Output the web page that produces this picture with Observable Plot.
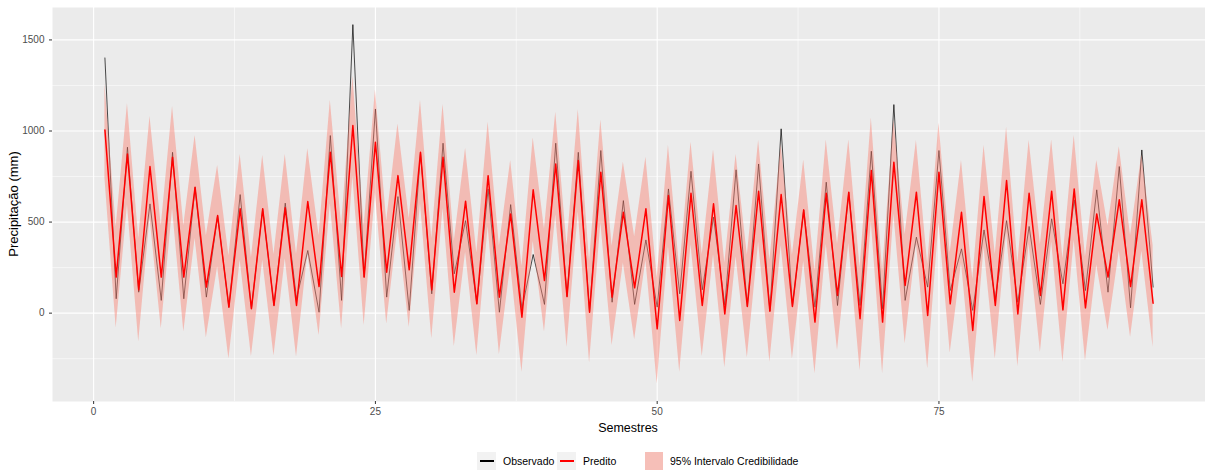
<!DOCTYPE html>
<html><head><meta charset="utf-8">
<script src="https://cdn.jsdelivr.net/npm/d3@7"></script>
<script src="https://cdn.jsdelivr.net/npm/@observablehq/plot@0.6"></script>
<style>
body{margin:0;background:#fff;font-family:"Liberation Sans",Arial,sans-serif;}
#wrap{position:relative;width:1205px;height:470px;}
#legend{position:relative;height:20px;width:1205px;}
#legend .key{position:absolute;top:2px;height:18px;background:#F2F2F2;}
#legend .lbl{position:absolute;top:5px;font-size:10.5px;line-height:12px;color:#000;white-space:nowrap;}
</style></head><body>
<div id="wrap"><div id="chart"></div>
<div id="legend">
  <div class="key" style="left:477px;width:19px;"><div style="position:absolute;left:3px;width:14px;top:8px;height:2px;background:#000;"></div></div>
  <div class="lbl" style="left:503px;">Observado</div>
  <div class="key" style="left:557px;width:19px;"><div style="position:absolute;left:3px;width:14px;top:8px;height:2px;background:#FF0000;"></div></div>
  <div class="lbl" style="left:583px;">Predito</div>
  <div class="key" style="left:645px;width:18px;"><div style="position:absolute;left:0;top:0;width:18px;height:18px;background:rgba(250,128,114,0.45);"></div></div>
  <div class="lbl" style="left:670px;">95% Intervalo Credibilidade</div>
</div></div>
<script>
const observado = [1401,79,911,115,600,70,883,79,691,88,536,33,651,24,573,42,604,79,344,5,975,70,1584,198,1121,88,640,15,883,106,933,216,508,51,682,5,596,24,322,48,933,91,883,5,893,60,618,48,402,33,682,106,779,128,527,42,787,37,819,11,1012,37,567,33,719,42,664,42,889,24,1145,70,417,143,893,124,353,15,457,79,508,60,476,48,518,161,622,124,677,115,805,29,896,143];
const predito = [1006,198,874,128,805,198,856,198,691,143,536,33,573,24,573,42,578,42,613,146,883,201,1030,198,938,225,755,238,883,128,856,115,615,51,755,88,545,-22,677,179,819,91,838,5,774,88,554,139,573,-86,646,-40,658,42,600,-4,591,37,669,11,651,37,567,-49,658,97,664,-31,783,-49,829,152,664,-13,774,51,554,-95,640,42,728,-4,658,97,669,18,682,29,545,198,622,146,622,55];
const inferior = [740,-82,595,-159,525,-86,575,-104,410,-135,255,-251,290,-238,290,-235,298,-241,330,-123,600,-86,750,-68,660,-59,475,-77,600,-141,575,-183,335,-232,475,-227,265,-324,395,-104,540,-187,555,-274,495,-177,275,-146,290,-388,365,-324,375,-238,320,-300,310,-245,390,-269,370,-251,285,-333,378,-205,383,-315,500,-333,545,-168,383,-305,495,-219,275,-379,360,-251,445,-293,378,-214,390,-269,400,-263,265,-95,340,-132,340,-187];
const superior = [1260,475,1149,410,1079,478,1134,480,975,425,810,315,871,305,865,322,871,322,902,425,1167,480,1300,478,1225,505,1039,518,1167,410,1145,395,905,330,1048,368,838,258,962,460,1103,370,1116,285,1061,368,829,420,856,195,920,240,938,322,896,276,871,318,948,291,925,318,841,231,951,377,951,249,1072,231,1060,432,948,267,1043,331,838,185,920,322,1021,276,948,377,951,298,975,309,838,478,914,426,870,371];
const xTicks = [0, 25, 50, 75];
const xMinor = [12.5, 37.5, 62.5, 87.5];
const yTicks = [0, 500, 1000, 1500];
const yMinor = [-250, 250, 750, 1250];

const data = observado.map((o, i) => ({s: i + 1, obs: o, pred: predito[i], lo: inferior[i], hi: superior[i]}));

const plot = Plot.plot({
  width: 1205, height: 450,
  marginLeft: 52, marginRight: 0, marginTop: 7, marginBottom: 49,
  x: {domain: [-3.65, 98.65]},
  y: {domain: [-485, 1678]},
  style: {fontFamily: "'Liberation Sans', Arial, sans-serif", fontSize: "10px", color: "#4D4D4D", background: "white"},
  marks: [
    Plot.frame({fill: "#EBEBEB", stroke: null}),
    Plot.ruleY(yMinor, {stroke: "white", strokeWidth: 0.55}),
    Plot.ruleX(xMinor, {stroke: "white", strokeWidth: 0.55}),
    Plot.ruleY(yTicks, {stroke: "white", strokeWidth: 1.1}),
    Plot.ruleX(xTicks, {stroke: "white", strokeWidth: 1.1}),
    Plot.lineY(data, {x: "s", y: "obs", stroke: "#000", strokeWidth: 0.7}),
    Plot.areaY(data, {x: "s", y1: "lo", y2: "hi", fill: "#FA8072", fillOpacity: 0.45}),
    Plot.lineY(data, {x: "s", y: "pred", stroke: "#FF0000", strokeWidth: 1.5}),
    Plot.axisX({ticks: xTicks, tickSize: 3, tickPadding: 3, tickFormat: d => String(d), label: null, stroke: "#333"}),
    Plot.axisY({ticks: yTicks, tickSize: 3, tickPadding: 5, tickFormat: d => String(d), label: null, stroke: "#333"})
  ]
});
document.getElementById("chart").appendChild(plot);
const svg = d3.select(plot);
svg.append("text").attr("x", 628).attr("y", 431.5).attr("text-anchor", "middle")
  .attr("font-size", "12.5px").attr("fill", "#000").attr("font-family", "'Liberation Sans', Arial, sans-serif").text("Semestres");
svg.append("text").attr("transform", "translate(18,204) rotate(-90)").attr("text-anchor", "middle")
  .attr("font-size", "13px").attr("fill", "#000").attr("font-family", "'Liberation Sans', Arial, sans-serif").text("Precipitação (mm)");
</script>
</body></html>
